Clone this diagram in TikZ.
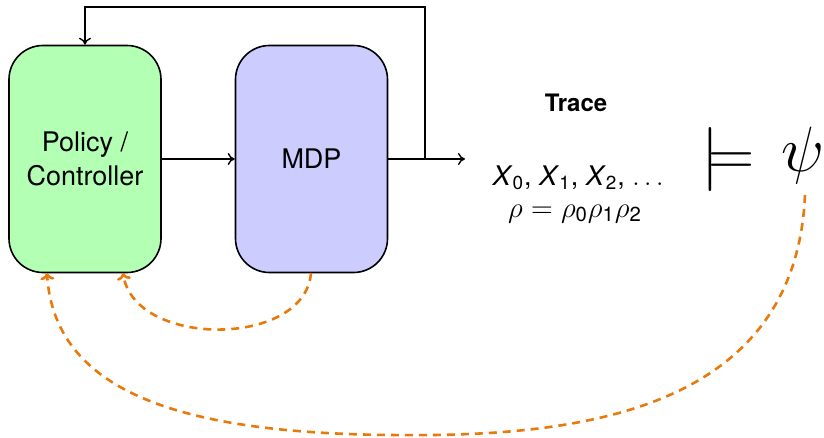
\RequirePackage{fix-cm}
\documentclass[tikz,border=0pt]{standalone}
\usepackage{fontspec}
\setmainfont{TeX Gyre Heros}
\setsansfont{TeX Gyre Heros}
\usetikzlibrary{arrows.meta,calc}
\definecolor{boxgreen}{RGB}{179,255,179}
\definecolor{boxblue}{RGB}{204,204,255}
\definecolor{dashorange}{RGB}{232,122,12}
\begin{document}
\begin{tikzpicture}[x=0.5pt,y=-0.5pt,
  blockbox/.style={draw=black,line width=0.8pt,rounded corners=17pt,minimum width=76pt,minimum height=113.5pt,align=center,font=\fontsize{13.5}{17}\selectfont,inner sep=0pt},
  flow/.style={draw=black,line width=0.7pt,-{To[length=3.5pt,width=6pt]}},
  bigsym/.style={font=\fontsize{32}{32}\selectfont,inner sep=0pt},
  loopback/.style={draw=dashorange,line width=1.3pt,dash pattern=on 4pt off 3pt,-{To[length=3.5pt,width=7pt]}}]
\useasboundingbox (0,0) rectangle (824,438);
\node[blockbox,fill=boxgreen] (pol) at (85,159) {Policy /\\Controller};
\node[blockbox,fill=boxblue] (mdp) at (311.5,159) {MDP};
\coordinate (out) at (465,159);
\coordinate (branch) at (425,159);
\draw[flow] (pol.east) -- (mdp.west);
\draw[flow] (mdp.east) -- (out);
\draw[flow] (branch) |- (85,7) -- (pol.north);
\node[font=\bfseries\fontsize{12}{14}\selectfont] (trace) at (576,103) {Trace};
\node[font=\fontsize{13.5}{16}\selectfont] (xs) at (578,178) {\textit{X}\textsubscript{0}, \textit{X}\textsubscript{1}, \textit{X}\textsubscript{2}, $\ldots$};
\node[font=\fontsize{14.5}{16}\selectfont] (rho) at (575,214) {$\rho = \rho$\textsubscript{0}$\rho$\textsubscript{1}$\rho$\textsubscript{2}};
\node[bigsym] (models) at (728,160) {$\models$};
\node[bigsym] (psi) at (803,156) {$\psi$};
\coordinate (psiend) at (805,195);
\coordinate (polA) at (47,273);
\coordinate (polB) at (123,273);
\coordinate (mdpS) at (311,273);
\draw[loopback] (mdpS) .. controls (305,348) and (135,348) .. (polB);
\draw[loopback] (psiend) .. controls (795,420) and (560,437) .. (390,435) .. controls (200,433) and (55,400) .. (polA);
\end{tikzpicture}
\end{document}
